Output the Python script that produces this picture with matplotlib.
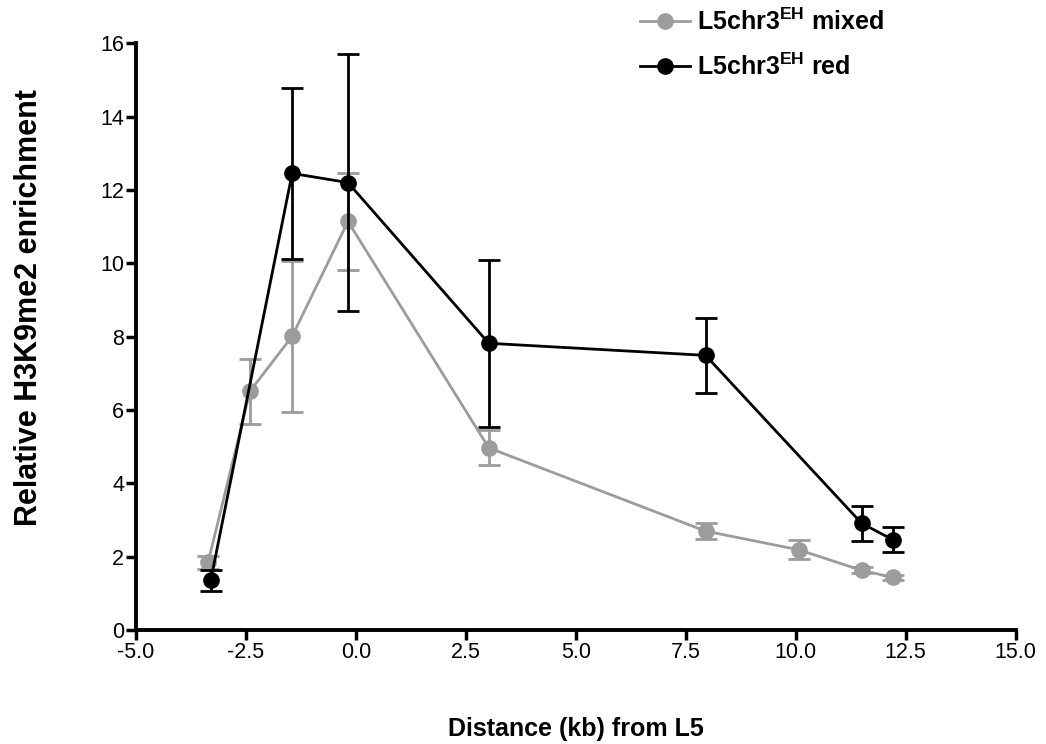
import matplotlib
matplotlib.use("Agg")
import matplotlib.pyplot as plt
from matplotlib.lines import Line2D

plt.rcParams['font.family'] = ['Liberation Sans', 'DejaVu Sans']
plt.rcParams['mathtext.fontset'] = 'custom'
plt.rcParams['mathtext.rm'] = 'Liberation Sans'
plt.rcParams['mathtext.bf'] = 'Liberation Sans:bold'

# Data
mixed_x = [-3.36, -2.41, -1.45, -0.18, 3.02, 7.95, 10.07, 11.5, 12.2]
mixed_y = [1.85, 6.51, 8.01, 11.14, 4.97, 2.70, 2.19, 1.63, 1.44]
mixed_err = [0.18, 0.88, 2.05, 1.33, 0.48, 0.22, 0.26, 0.08, 0.06]

red_x = [-3.3, -1.45, -0.18, 3.02, 7.95, 11.5, 12.2]
red_y = [1.36, 12.45, 12.20, 7.82, 7.49, 2.91, 2.47]
red_err = [0.29, 2.33, 3.51, 2.27, 1.02, 0.48, 0.34]

xticks = [-5.0, -2.5, 0.0, 2.5, 5.0, 7.5, 10.0, 12.5, 15.0]
yticks = [0, 2, 4, 6, 8, 10, 12, 14, 16]
labels = [r'L5chr3$^{\mathbf{EH}}$ mixed', r'L5chr3$^{\mathbf{EH}}$ red']

fig = plt.figure(figsize=(10.46, 7.44), dpi=100)
ax = fig.add_axes([0.130, 0.153, 0.841, 0.789])

gray = '#9c9c9c'
ax.errorbar(mixed_x, mixed_y, yerr=mixed_err, color=gray, marker='o', markersize=11,
            linewidth=2.0, elinewidth=2.0, capsize=8, capthick=2.0, zorder=2)
ax.errorbar(red_x, red_y, yerr=red_err, color='black', marker='o', markersize=11,
            linewidth=2.0, elinewidth=2.0, capsize=8, capthick=2.0, zorder=3)

ax.set_xlim(-5, 15)
ax.set_ylim(0, 16)
ax.set_xticks(xticks)
ax.set_xticklabels([f'{v:.1f}' for v in xticks])
ax.set_yticks(yticks)
ax.tick_params(axis='both', direction='out', length=7, width=2.5, labelsize=15.5, pad=1.5)
for s in ['top', 'right']:
    ax.spines[s].set_visible(False)
for s in ['left', 'bottom']:
    ax.spines[s].set_linewidth(2.8)

ax.set_xlabel('Distance (kb) from L5', fontsize=18, fontweight='bold')
ax.xaxis.set_label_coords(0.5, -0.148)
ax.set_ylabel('Relative H3K9me2 enrichment', fontsize=22, fontweight='bold')
ax.yaxis.set_label_coords(-0.105, 0.55)

handles = [Line2D([], [], color=gray, marker='o', markersize=11, linewidth=2.0),
           Line2D([], [], color='black', marker='o', markersize=11, linewidth=2.0)]
leg = fig.legend(handles, labels, loc='upper left', bbox_to_anchor=(0.595, 1.012), frameon=False,
                 prop={'weight': 'bold', 'size': 18}, labelspacing=0.75,
                 handlelength=2.0, handletextpad=0.27, borderaxespad=0.3)

fig.savefig('out.png', dpi=100)
